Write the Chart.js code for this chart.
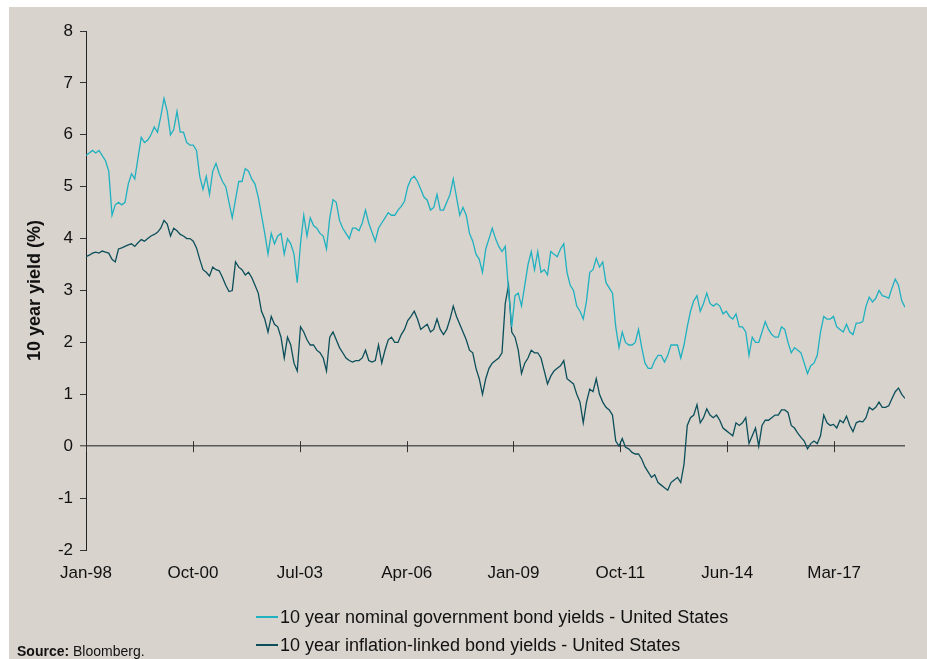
<!DOCTYPE html>
<html>
<head>
<meta charset="utf-8">
<script src="https://cdn.jsdelivr.net/npm/chart.js@4.4.1/dist/chart.umd.min.js"></script>
<style>
  body { margin: 0; background: #fff; font-family: 'Liberation Sans', Arial, sans-serif; }
  #wrap { position: absolute; left: 9px; top: 7px; width: 918px; height: 652px; background: #d8d3cd; overflow: hidden; }
  #legend { position: absolute; left: 247px; top: 601px; }
  .item { position: relative; height: 28px; font-size: 18px; color: #111; white-space: nowrap; }
  .item span.swatch { position: absolute; left: 0; top: 8px; width: 22px; height: 1.5px; }
  .item span.txt { position: absolute; left: 24px; top: -1px; }
  #source { position: absolute; left: 8px; top: 636px; font-size: 14px; color: #111; white-space: nowrap; }
</style>
</head>
<body>
<div id="wrap">
  <canvas id="chart-yields"></canvas>
  <div id="legend"></div>
  <div id="source"><b>Source:</b> Bloomberg.</div>
</div>
<script>
// monthly points, Jan-98 .. Jan-19 (index = months since Jan-98)
const nominalYields = [
  5.6, 5.65, 5.7, 5.65, 5.7, 5.6, 5.5, 5.3, 4.45, 4.65, 4.7, 4.65,
  4.7, 5.05, 5.25, 5.15, 5.55, 5.95, 5.85, 5.9, 6.0, 6.15, 6.05, 6.35,
  6.7, 6.45, 6.0, 6.1, 6.45, 6.05, 6.05, 5.85, 5.8, 5.8, 5.7, 5.2,
  4.95, 5.2, 4.85, 5.3, 5.45, 5.25, 5.1, 5.0, 4.7, 4.4, 4.75, 5.1,
  5.1, 5.35, 5.3, 5.15, 5.05, 4.8, 4.45, 4.1, 3.7, 4.1, 3.9, 4.05,
  4.1, 3.7, 4.0, 3.9, 3.7, 3.15, 3.9, 4.45, 4.05, 4.4, 4.25, 4.2,
  4.1, 4.05, 3.8, 4.4, 4.75, 4.7, 4.35, 4.2, 4.1, 4.0, 4.2, 4.2,
  4.15, 4.3, 4.55, 4.3, 4.12, 3.95, 4.2, 4.3, 4.4, 4.5, 4.45, 4.45,
  4.55, 4.62, 4.72, 5.0, 5.15, 5.2, 5.1, 4.95, 4.8, 4.74, 4.55, 4.6,
  4.85, 4.55, 4.55, 4.7, 4.85, 5.15, 4.8, 4.45, 4.6, 4.45, 4.1, 3.95,
  3.7, 3.6, 3.35, 3.8, 4.0, 4.2, 4.0, 3.85, 3.75, 3.85, 3.0, 2.3,
  2.9, 2.95, 2.7, 3.1, 3.5, 3.75, 3.4, 3.75, 3.35, 3.4, 3.3, 3.75,
  3.7, 3.65, 3.8, 3.9, 3.35, 3.1, 3.0, 2.7, 2.6, 2.45, 2.8, 3.35,
  3.4, 3.62, 3.45, 3.55, 3.15, 3.05, 2.95, 2.3, 1.9, 2.2, 2.0, 1.95,
  1.95, 2.0, 2.25, 1.9, 1.6, 1.5, 1.5, 1.65, 1.75, 1.75, 1.62, 1.75,
  1.95, 1.95, 1.95, 1.7, 1.95, 2.3, 2.6, 2.8, 2.9, 2.6, 2.75, 2.95,
  2.75, 2.7, 2.75, 2.7, 2.55, 2.6, 2.5, 2.45, 2.55, 2.3, 2.3, 2.2,
  1.75, 2.1, 2.0, 2.0, 2.2, 2.4, 2.25, 2.15, 2.1, 2.1, 2.3, 2.25,
  2.0, 1.8, 1.9, 1.85, 1.8, 1.6, 1.4, 1.55, 1.6, 1.75, 2.2, 2.5,
  2.45, 2.45, 2.5, 2.3, 2.25, 2.2, 2.35, 2.2, 2.15, 2.37, 2.37, 2.4,
  2.7, 2.87, 2.78, 2.85, 3.0, 2.9, 2.88, 2.85, 3.05, 3.22, 3.1, 2.8,
  2.68
];

const linkedYields = [
  3.65, 3.68, 3.72, 3.74, 3.72, 3.76, 3.74, 3.72, 3.6, 3.55, 3.8, 3.82,
  3.85, 3.88, 3.9, 3.85, 3.92, 3.98, 3.95, 4.0, 4.05, 4.08, 4.12, 4.2,
  4.35, 4.28, 4.05, 4.2, 4.15, 4.08, 4.05, 4.0, 4.0, 3.95, 3.82, 3.6,
  3.4, 3.35, 3.28, 3.45, 3.4, 3.38, 3.25, 3.1, 2.98, 3.0, 3.55, 3.45,
  3.4, 3.3, 3.35, 3.25, 3.1, 2.95, 2.6, 2.45, 2.2, 2.5, 2.35, 2.3,
  2.1, 1.7, 2.1, 1.95, 1.6, 1.45, 2.3, 2.2, 2.05, 1.95, 1.95, 1.85,
  1.8, 1.7, 1.45, 2.1, 2.2, 2.05, 1.9, 1.8, 1.7, 1.65, 1.62, 1.65,
  1.65, 1.7, 1.85, 1.65, 1.62, 1.65, 1.95, 1.6, 1.85, 2.05, 2.1, 2.0,
  2.0, 2.15, 2.25, 2.42, 2.5, 2.6, 2.45, 2.25, 2.3, 2.35, 2.2, 2.25,
  2.45, 2.25, 2.15, 2.25, 2.45, 2.7, 2.5, 2.35, 2.2, 2.05, 1.85, 1.8,
  1.5, 1.3, 1.0, 1.3, 1.5, 1.6, 1.65, 1.7, 1.8, 2.75, 3.1, 2.2,
  2.1, 1.85, 1.4, 1.6, 1.7, 1.85, 1.8, 1.8, 1.7, 1.45, 1.2, 1.35,
  1.45, 1.5, 1.55, 1.65, 1.3, 1.25, 1.2, 1.0, 0.85, 0.45, 0.85, 1.1,
  1.05, 1.3, 1.0, 0.85, 0.75, 0.7, 0.6, 0.1, 0.0, 0.15, -0.02, -0.05,
  -0.12, -0.15, -0.15, -0.25, -0.4, -0.5, -0.6, -0.55, -0.7, -0.75, -0.8, -0.85,
  -0.7, -0.65, -0.6, -0.7, -0.35, 0.4, 0.55, 0.6, 0.8, 0.45, 0.55, 0.72,
  0.6, 0.55, 0.6, 0.5, 0.35, 0.3, 0.25, 0.2, 0.45, 0.4, 0.45, 0.55,
  0.05, 0.2, 0.35, 0.0, 0.4, 0.5, 0.5, 0.55, 0.6, 0.6, 0.7, 0.7,
  0.65, 0.4, 0.35, 0.25, 0.17, 0.1, -0.05, 0.05, 0.1, 0.05, 0.2, 0.6,
  0.45, 0.4, 0.42, 0.35, 0.5, 0.45, 0.58, 0.4, 0.28, 0.45, 0.48, 0.47,
  0.55, 0.75, 0.7, 0.75, 0.85, 0.75, 0.75, 0.78, 0.92, 1.05, 1.12, 1.0,
  0.92
];

const tickLabels = ['Jan-98', 'Oct-00', 'Jul-03', 'Apr-06', 'Jan-09', 'Oct-11', 'Jun-14', 'Mar-17'];
const tickMonths = [0, 32.9, 65.8, 98.7, 131.5, 164.4, 197.3, 230.2];
const seriesNames = ['10 year nominal government bond yields - United States', '10 year inflation-linked bond yields - United States'];
const seriesColors = ['#1fb1c0', '#0c4f5b'];

const toPoints = (arr) => arr.map((v, i) => ({ x: i, y: v }));

// cross tick marks on the zero line, at the x tick positions
const zeroTicks = {
    id: 'zeroTicks',
    beforeDatasetsDraw(chart) {
        const { ctx, scales: { x, y } } = chart;
        const y0 = y.getPixelForValue(0);
        ctx.save();
        ctx.strokeStyle = '#333';
        ctx.lineWidth = 1;
        tickMonths.forEach((m) => {
            const px = Math.round(x.getPixelForValue(m)) + 0.5;
            ctx.beginPath();
            ctx.moveTo(px, y0 - 5);
            ctx.lineTo(px, y0 + 6);
            ctx.stroke();
        });
        ctx.restore();
    }
};

const config = {
    type: 'line',
    data: {
        datasets: [{
            label: seriesNames[0],
            data: toPoints(nominalYields),
            borderColor: seriesColors[0],
            borderWidth: 1.3,
            pointRadius: 0,
            tension: 0
        }, {
            label: seriesNames[1],
            data: toPoints(linkedYields),
            borderColor: seriesColors[1],
            borderWidth: 1.3,
            pointRadius: 0,
            tension: 0
        }]
    },
    options: {
        responsive: true,
        maintainAspectRatio: false,
        animation: false,
        layout: { padding: { left: 0, right: 22, top: 24, bottom: 69 } },
        plugins: { legend: { display: false }, tooltip: { enabled: false } },
        scales: {
            x: {
                type: 'linear',
                min: 0,
                max: nominalYields.length - 1,
                grid: { display: false, drawTicks: false },
                border: { display: false },
                afterBuildTicks: (scale) => { scale.ticks = tickMonths.map((m) => ({ value: m })); },
                afterFit: (scale) => { scale.height = 40; },
                ticks: {
                    autoSkip: false,
                    maxRotation: 0,
                    padding: 13,
                    color: '#111',
                    font: { family: 'Liberation Sans', size: 17 },
                    callback: (value, index) => tickLabels[index]
                }
            },
            y: {
                min: -2,
                max: 8,
                afterFit: (scale) => { scale.width = 77; },
                ticks: {
                    stepSize: 1,
                    padding: 7,
                    color: '#111',
                    font: { family: 'Liberation Sans', size: 17 }
                },
                grid: {
                    color: (c) => c.tick && c.tick.value === 0 ? '#595959' : 'rgba(0,0,0,0)',
                    lineWidth: (c) => c.tick && c.tick.value === 0 ? 1.6 : 1,
                    tickColor: '#333',
                    tickWidth: 1,
                    tickLength: 6
                },
                border: { display: true, color: '#222', width: 1 },
                title: {
                    display: true,
                    text: '10 year yield (%)',
                    color: '#111',
                    font: { family: 'Liberation Sans', size: 18, weight: 'bold' },
                    padding: { top: 15, bottom: 0 }
                }
            }
        }
    },
    plugins: [zeroTicks]
};

const chartDom = document.querySelector('#chart-yields');
const chartInstance = new Chart(chartDom, config);

const legend = document.querySelector('#legend');
seriesNames.forEach((name, i) => {
    const row = document.createElement('div');
    row.className = 'item';
    row.innerHTML = `<span class="swatch" style="background:${seriesColors[i]}"></span><span class="txt">${name}</span>`;
    legend.appendChild(row);
});
</script>
</body>
</html>
